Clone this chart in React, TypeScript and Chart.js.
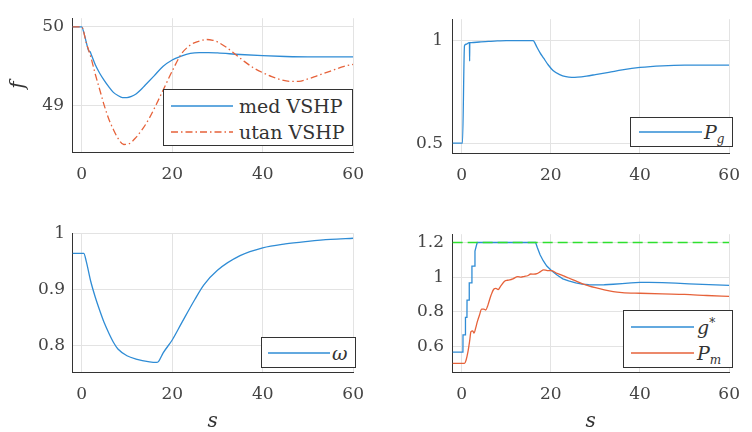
import React, { useEffect, useRef } from "react";
import { Chart, registerables } from "chart.js";

Chart.register(...registerables);

// ---------------- data ----------------
const xTicks = [0, 20, 40, 60];
const xRange = [-2.15, 60];

// Panel 1: frequency f
const fTicks = [49, 50];
const fMedX = [-2, 0, 0.45, 0.9, 1.3, 1.6, 1.8, 2.1, 3, 4, 5, 6, 7, 8, 9, 10, 11, 12, 13, 14, 16, 18, 20, 22, 24, 26, 28, 30, 35, 40, 45, 50, 55, 60];
const fMedY = [50, 50, 49.93, 49.83, 49.74, 49.69, 49.69, 49.65, 49.52, 49.41, 49.32, 49.24, 49.17, 49.13, 49.105, 49.105, 49.12, 49.15, 49.2, 49.26, 49.38, 49.5, 49.58, 49.63, 49.665, 49.675, 49.675, 49.67, 49.65, 49.635, 49.625, 49.62, 49.62, 49.62];
const fUtanX = [-2, 0, 1, 2, 3, 4, 5, 6, 7, 8, 9.3, 10.5, 12, 13.5, 15, 16.5, 18, 20, 22, 24, 25, 26, 27.6, 29, 30, 32, 34, 36, 38, 40, 42, 44, 46, 48, 50, 52, 55, 58, 60];
const fUtanY = [50, 50, 49.8, 49.62, 49.4, 49.2, 49.0, 48.83, 48.7, 48.59, 48.51, 48.52, 48.6, 48.71, 48.85, 49.02, 49.2, 49.44, 49.655, 49.77, 49.8, 49.82, 49.84, 49.83, 49.81, 49.74, 49.65, 49.56, 49.48, 49.42, 49.37, 49.33, 49.31, 49.31, 49.34, 49.38, 49.44, 49.5, 49.525];

// Panel 2: P_g
const pgTicks = [0.5, 1];
const pgX = [-2, 0.2, 0.65, 1.0, 1.7, 1.76, 1.8, 1.84, 2.2, 4, 6, 8, 10, 12, 14, 16.05, 16.5, 16.9, 17.6, 18.4, 19.4, 20.5, 22, 23.4, 24.7, 26, 28, 30, 33, 36, 40, 45, 50, 55, 60];
const pgY = [0.5, 0.5, 0.975, 0.982, 0.99, 0.99, 0.9, 0.99, 0.99, 0.993, 0.996, 0.998, 1.0, 1.0, 1.0, 1.0, 0.985, 0.967, 0.94, 0.914, 0.882, 0.854, 0.834, 0.824, 0.821, 0.822, 0.827, 0.834, 0.845, 0.857, 0.869, 0.877, 0.88, 0.88, 0.88];

// Panel 3: omega
const wTicks = [0.8, 0.9, 1];
const wX = [-2, 0.45, 1, 2, 3, 4, 5, 6, 7, 8, 10, 12, 15, 16.5, 17, 18, 20, 22, 25, 27, 30, 35, 40, 45, 50, 55, 60];
const wY = [0.964, 0.964, 0.95, 0.914, 0.886, 0.862, 0.84, 0.822, 0.806, 0.794, 0.782, 0.776, 0.771, 0.77, 0.772, 0.787, 0.81, 0.839, 0.882, 0.908, 0.934, 0.96, 0.974, 0.981, 0.9855, 0.989, 0.991];

// Panel 4: g* and P_m, limit
const gTicks = [0.6, 0.8, 1, 1.2];
const gStarX = [-2, 0.3, 0.32, 0.85, 0.87, 1.2, 1.22, 1.7, 1.72, 2.3, 2.32, 2.9, 3.0, 3.5, 16.6, 17.0, 17.6, 18.3, 19.1, 20.2, 21.4, 22.7, 24.0, 25.6, 27, 28.5, 30, 32, 34, 36, 38, 40, 42, 45, 48, 51, 54, 57, 60];
const gStarY = [0.567, 0.567, 0.667, 0.667, 0.768, 0.768, 0.867, 0.867, 0.967, 0.967, 1.064, 1.064, 1.15, 1.2, 1.2, 1.17, 1.129, 1.095, 1.064, 1.037, 1.012, 0.99, 0.978, 0.967, 0.96, 0.956, 0.955, 0.956, 0.959, 0.963, 0.967, 0.97, 0.97, 0.968, 0.965, 0.961, 0.958, 0.955, 0.952];
const pmX = [-2, 0.65, 1.0, 1.4, 1.8, 2.1, 2.5, 2.8, 3.2, 3.5, 4.0, 4.5, 5.0, 5.4, 5.8, 6.1, 6.6, 7.2, 7.7, 8.2, 8.8, 9.7, 10.3, 10.8, 11.5, 12.6, 13.3, 14.1, 14.8, 15.5, 16.2, 16.9, 17.6, 18.4, 19.2, 20.2, 21.4, 22.7, 24, 25.6, 27, 28.5, 30, 32, 34, 36, 40, 45, 50, 55, 60];
const pmY = [0.502, 0.502, 0.52, 0.565, 0.63, 0.685, 0.69, 0.677, 0.71, 0.74, 0.78, 0.815, 0.815, 0.81, 0.83, 0.855, 0.895, 0.93, 0.935, 0.928, 0.95, 0.978, 0.982, 0.984, 0.99, 1.003, 1.0, 1.005, 1.008, 1.018, 1.017, 1.02, 1.03, 1.042, 1.038, 1.037, 1.022, 1.009, 0.995, 0.978, 0.963, 0.95, 0.939, 0.926, 0.916, 0.911, 0.907, 0.903, 0.9, 0.894, 0.889];
const limitX = [-2, 60];
const limitY = [1.2, 1.2];

// ---------------- styles ----------------
const BLUE = "#2f8cd5";
const ORANGE = "#e6623a";
const GREEN = "#2ee02e";
const SERIF = "DejaVu Serif, Liberation Serif, Noto Serif, serif";
const W = 376;
const H = 216;

type Series = { xs: number[]; ys: number[]; color: string; dash?: number[]; smooth?: boolean };
type PanelCfg = {
  series: Series[];
  yMin: number;
  yMax: number;
  yTicks: number[];
  area: { left: number; top: number; right: number; bottom: number };
  yPad: number;
  xTitle?: string;
  yTitle?: string;
};

function Panel({ cfg, left, top }: { cfg: PanelCfg; left: number; top: number }) {
  const ref = useRef<HTMLCanvasElement>(null);
  useEffect(() => {
    const chart = new Chart(ref.current!, {
      type: "line",
      data: {
        datasets: cfg.series.map((s) => ({
          data: s.xs.map((x, i) => ({ x, y: s.ys[i] })),
          borderColor: s.color,
          borderWidth: 1.3,
          borderDash: s.dash ?? [],
          pointRadius: 0,
          tension: s.smooth ? 0.4 : 0,
          cubicInterpolationMode: s.smooth ? "monotone" : "default",
          fill: false,
        })),
      },
      options: {
        animation: false,
        responsive: false,
        maintainAspectRatio: false,
        events: [],
        layout: { padding: { left: 0, top: cfg.area.top, right: W - cfg.area.right, bottom: 0 } },
        plugins: { legend: { display: false }, tooltip: { enabled: false } },
        scales: {
          x: {
            type: "linear",
            min: xRange[0],
            max: xRange[1],
            afterBuildTicks: (ax: any) => {
              ax.ticks = xTicks.map((v) => ({ value: v }));
            },
            afterFit: (ax: any) => {
              ax.height = H - cfg.area.bottom;
            },
            grid: { color: "#e3e3e3", drawTicks: false, lineWidth: 1 },
            border: { display: true, color: "#333", width: 1 },
            ticks: {
              padding: 12,
              color: "#444",
              font: { family: SERIF, size: 17 },
              maxRotation: 0,
              callback: (v: any) => String(v),
            },
            title: {
              display: !!cfg.xTitle,
              text: cfg.xTitle ?? "",
              color: "#333",
              font: { family: SERIF, size: 20, style: "italic", lineHeight: 1 },
              padding: { top: 0, bottom: 0 },
            },
          },
          y: {
            type: "linear",
            min: cfg.yMin,
            max: cfg.yMax,
            afterBuildTicks: (ax: any) => {
              ax.ticks = cfg.yTicks.map((v) => ({ value: v }));
            },
            afterFit: (ax: any) => {
              ax.width = cfg.area.left;
            },
            grid: { color: "#e3e3e3", drawTicks: false, lineWidth: 1 },
            border: { display: true, color: "#333", width: 1 },
            ticks: {
              padding: cfg.yPad,
              color: "#444",
              font: { family: SERIF, size: 17 },
              callback: (v: any) => String(v),
            },
            title: {
              display: !!cfg.yTitle,
              text: cfg.yTitle ?? "",
              color: "#333",
              font: { family: SERIF, size: 20, style: "italic", lineHeight: 1.2 },
              padding: { top: 7, bottom: 0 },
            },
          },
        },
      } as any,
    });
    return () => chart.destroy();
  }, []);
  return (
    <canvas
      ref={ref}
      width={W}
      height={H}
      style={{ position: "absolute", left, top, width: W, height: H }}
    />
  );
}

type LegendRow = { color: string; dash?: string; label: React.ReactNode; cy: number };

function Legend({ left, top, width, height, lineStart, lineLen, textX, rows }: {
  left: number; top: number; width: number; height: number; lineStart: number; lineLen: number; textX: number; rows: LegendRow[];
}) {
  return (
    <div
      style={{
        position: "absolute", left, top, width, height, boxSizing: "border-box",
        border: "1px solid #333", background: "#fff", fontFamily: SERIF, fontSize: 19, color: "#333",
      }}
    >
      {rows.map((r, i) => (
        <React.Fragment key={i}>
          <svg style={{ position: "absolute", left: lineStart, top: r.cy - 3 }} width={lineLen} height={6}>
            <line x1={0} y1={3} x2={lineLen} y2={3} stroke={r.color} strokeWidth={1.3} strokeDasharray={r.dash} />
          </svg>
          <div style={{ position: "absolute", left: textX, top: r.cy - 12, height: 24, lineHeight: "24px", whiteSpace: "nowrap" }}>
            {r.label}
          </div>
        </React.Fragment>
      ))}
    </div>
  );
}

const subStyle: React.CSSProperties = { fontSize: 12, fontStyle: "italic", verticalAlign: "-4px", lineHeight: 0 };
const supStyle: React.CSSProperties = { fontSize: 12, verticalAlign: "7px", lineHeight: 0 };

const panel1: PanelCfg = {
  series: [
    { xs: fUtanX, ys: fUtanY, color: ORANGE, dash: [7, 3, 1.5, 3], smooth: true },
    { xs: fMedX, ys: fMedY, color: BLUE, smooth: true },
  ],
  yMin: 48.415, yMax: 50.11, yTicks: fTicks,
  area: { left: 72, top: 8, right: 360, bottom: 152 }, yPad: 8, yTitle: "f",
};
const panel2: PanelCfg = {
  series: [{ xs: pgX, ys: pgY, color: BLUE, smooth: true }],
  yMin: 0.452, yMax: 1.104, yTicks: pgTicks,
  area: { left: 76, top: 8, right: 363, bottom: 153 }, yPad: 9,
};
const panel3: PanelCfg = {
  series: [{ xs: wX, ys: wY, color: BLUE, smooth: true }],
  yMin: 0.753, yMax: 1.0, yTicks: wTicks,
  area: { left: 72, top: 13, right: 360, bottom: 156 }, yPad: 7, xTitle: "s",
};
const panel4: PanelCfg = {
  series: [
    { xs: limitX, ys: limitY, color: GREEN, dash: [10, 5] },
    { xs: pmX, ys: pmY, color: ORANGE, smooth: true },
    { xs: gStarX, ys: gStarY, color: BLUE },
  ],
  yMin: 0.452, yMax: 1.248, yTicks: gTicks,
  area: { left: 76, top: 13, right: 363, bottom: 156 }, yPad: 8, xTitle: "s",
};

export default function App() {
  return (
    <div style={{ position: "absolute", left: 0, top: 0, width: 752, height: 432, background: "#fff", overflow: "hidden" }}>
      <Panel cfg={panel1} left={0} top={0} />
      <Panel cfg={panel2} left={376} top={0} />
      <Panel cfg={panel3} left={0} top={216} />
      <Panel cfg={panel4} left={376} top={216} />
      <Legend
        left={163} top={89} width={190} height={57} lineStart={7} lineLen={62} textX={75}
        rows={[
          { color: BLUE, label: "med VSHP", cy: 16 },
          { color: ORANGE, dash: "7 3 1.5 3", label: "utan VSHP", cy: 41.5 },
        ]}
      />
      <Legend
        left={630} top={117} width={103} height={30} lineStart={7.5} lineLen={63} textX={73}
        rows={[{ color: BLUE, label: <span><i>P</i><span style={subStyle}>g</span></span>, cy: 14 }]}
      />
      <Legend
        left={261} top={337} width={95} height={31} lineStart={6} lineLen={62} textX={70}
        rows={[{ color: BLUE, label: <i>ω</i>, cy: 14.5 }]}
      />
      <Legend
        left={623} top={310} width={110} height={58} lineStart={7} lineLen={63} textX={73}
        rows={[
          { color: BLUE, label: <span><i>g</i><span style={supStyle}>*</span></span>, cy: 15.5 },
          { color: ORANGE, label: <span><i>P</i><span style={subStyle}>m</span></span>, cy: 42 },
        ]}
      />
    </div>
  );
}
